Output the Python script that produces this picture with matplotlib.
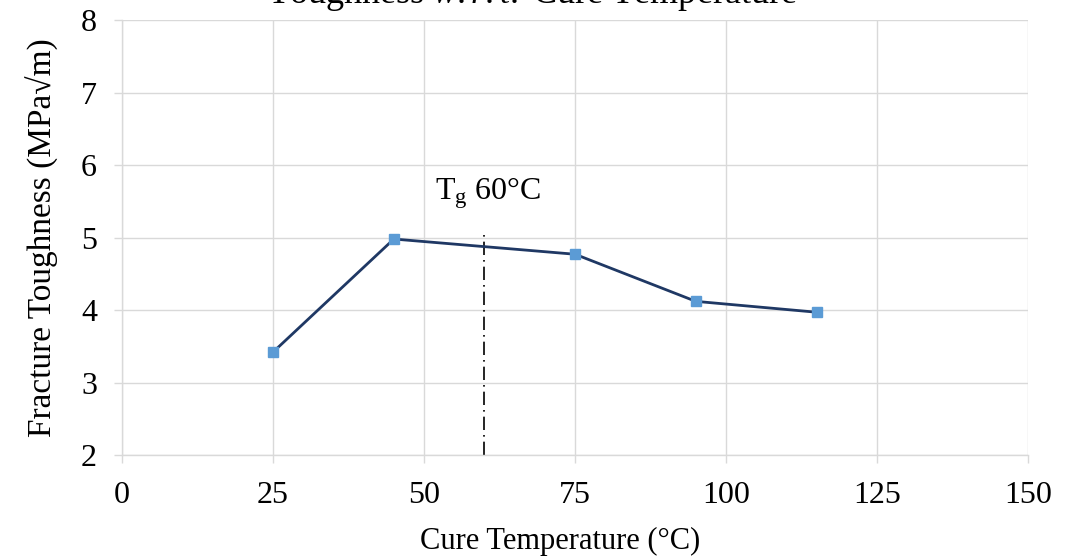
import matplotlib
matplotlib.use("Agg")
import matplotlib.pyplot as plt

# data
cure_temp = [25, 45, 75, 95, 115]
toughness = [3.42, 4.98, 4.77, 4.12, 3.97]
tg_temp = 60
tg_top = 5.08
x_ticks = [0, 25, 50, 75, 100, 125, 150]
y_ticks = [2, 3, 4, 5, 6, 7, 8]

plt.rcParams['font.family'] = ['Liberation Serif', 'DejaVu Serif']
plt.rcParams['mathtext.fontset'] = 'custom'
plt.rcParams['mathtext.rm'] = 'Liberation Serif'
plt.rcParams['mathtext.it'] = 'Liberation Serif:italic'

fig = plt.figure(figsize=(10.65, 5.6), dpi=100)
ax = fig.add_axes([0.1146, 0.1875, 0.9653 - 0.1146, 0.964 - 0.1875])

ax.plot(cure_temp, toughness, color='#1F3864', linewidth=2.0,
        marker='s', markersize=7, markerfacecolor='#5B9BD5',
        markeredgecolor='#5B9BD5', zorder=3)
ax.plot([tg_temp, tg_temp], [2, tg_top], color='black', linewidth=1.2,
        linestyle=(0, (8, 3, 1, 3)), zorder=2)
ax.text(51.8, 5.52, r'T$_{\rm g}$ 60°C', fontsize=23, color='black')

ax.set_xlim(0, 150)
ax.set_ylim(2, 8)
ax.set_xticks(x_ticks)
ax.set_yticks(y_ticks)
ax.grid(True, color='#d9d9d9', linewidth=1)
ax.set_axisbelow(True)
for s in ['top', 'right']:
    ax.spines[s].set_visible(False)
for s in ['left', 'bottom']:
    ax.spines[s].set_color('#d9d9d9')
    ax.spines[s].set_linewidth(1)
ax.tick_params(axis='both', colors='#d9d9d9', length=6, width=1,
               labelcolor='black', labelsize=23)
ax.tick_params(axis='y', pad=12)
ax.tick_params(axis='x', pad=13)

ax.set_xlabel('Cure Temperature (°C)', fontsize=22)
ax.xaxis.set_label_coords(0.484, -0.165)
ax.set_ylabel('Fracture Toughness (MPa√m)', fontsize=24, labelpad=16)

fig.text(0.5, 1 - 3 / 560, r'Toughness $\it{w.r.t.}$ Cure Temperature',
         ha='center', va='baseline', fontsize=26)

fig.savefig('out.png', dpi=100)
